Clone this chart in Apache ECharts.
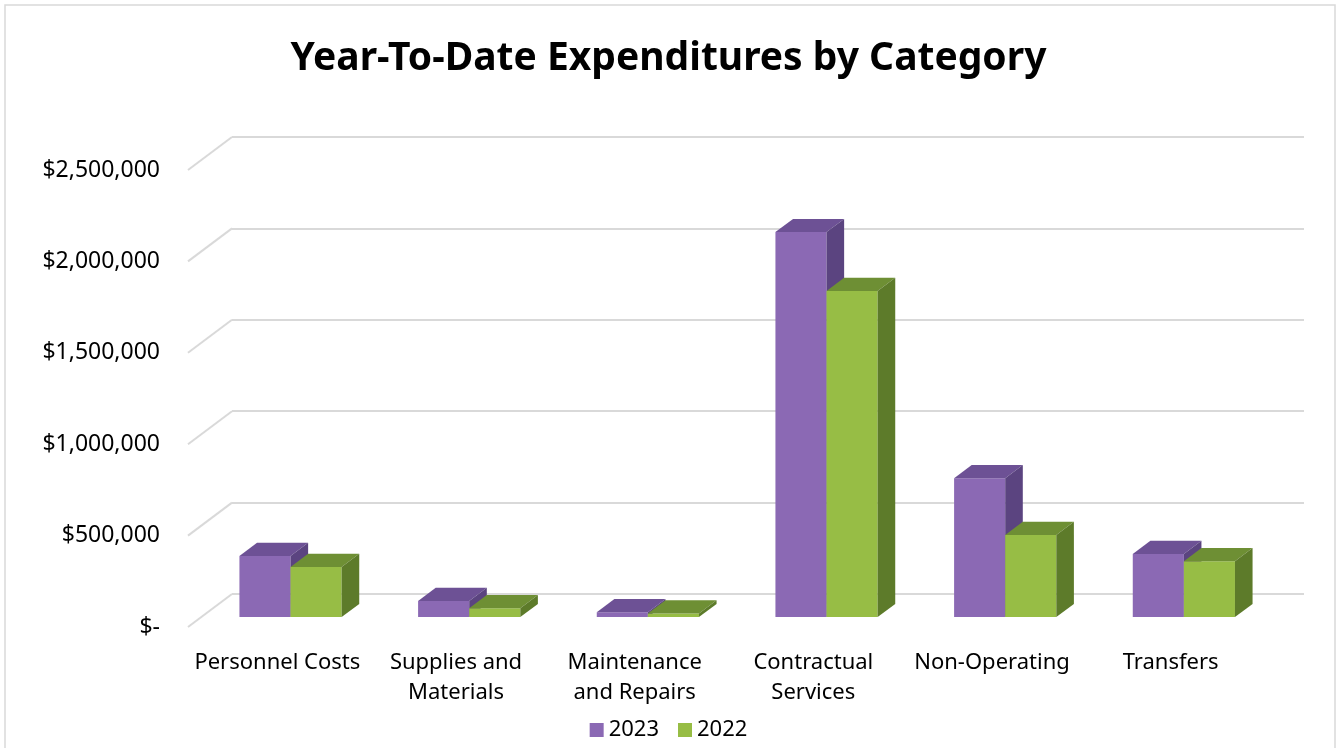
<!DOCTYPE html>
<html><head><meta charset="utf-8">
<script src="https://cdn.jsdelivr.net/npm/echarts@6/dist/echarts.min.js"></script>
<style>html,body{margin:0;padding:0;background:#fff}#c{width:1337px;height:748px}</style>
</head><body><div id="c"></div>
<script>
const categories = ['Personnel Costs', 'Supplies and\nMaterials', 'Maintenance\nand Repairs', 'Contractual\nServices', 'Non-Operating', 'Transfers'];
const seriesNames = ['2023', '2022'];
const values2023 = [334000, 88000, 27000, 2106000, 760000, 345000];
const values2022 = [274000, 49000, 20000, 1784000, 449000, 306000];
const yMin = 0, yMax = 2500000, yInterval = 500000;
const yTicks = [0, 500000, 1000000, 1500000, 2000000, 2500000];

const DX = 44, DY = 33;          // floor depth offset
const BAR_FRONT = 0.3, BAR_DEPTH = 0.4;
const BAR_RATIO = 0.286;
const colors = {
  '2023': {front: '#8b69b4', top: '#6d5195', side: '#5b4480'},
  '2022': {front: '#97bd45', top: '#6e8f34', side: '#5d7b2a'}
};
const FONT = 'Noto Sans';

function fmt(v) {
  if (v === 0) return '$-';
  return '$' + v.toLocaleString('en-US');
}

function barRender(name, side) {
  return function (params, api) {
    const idx = api.value(0), val = api.value(1);
    const top = api.coord([idx, val]);
    const base = api.coord([idx, 0]);
    const band = api.size([1, 0])[0];
    const w = band * BAR_RATIO;
    const x0 = side === 0 ? top[0] - w : top[0];
    const x1 = x0 + w;
    const yT = top[1], yB = base[1];
    const dx = DX * BAR_DEPTH, dy = DY * BAR_DEPTH;
    const c = colors[name];
    return {
      type: 'group',
      children: [
        {type: 'polygon', shape: {points: [[x0, yB], [x1, yB], [x1, yT], [x0, yT]]}, style: {fill: c.front}},
        {type: 'polygon', shape: {points: [[x0, yT], [x1, yT], [x1 + dx, yT - dy], [x0 + dx, yT - dy]]}, style: {fill: c.top}},
        {type: 'polygon', shape: {points: [[x1, yB], [x1 + dx, yB - dy], [x1 + dx, yT - dy], [x1, yT]]}, style: {fill: c.side}}
      ]
    };
  };
}

const chart = echarts.init(document.getElementById('c'), null, {renderer: 'canvas'});
const frontBottom = 121, frontTop = 170, frontLeft = 188, frontRight = 77;
const option = {
  backgroundColor: '#fff',
  animation: false,
  title: {
    text: 'Year-To-Date Expenditures by Category',
    left: 'center', top: 34,
    textStyle: {fontFamily: FONT, fontSize: 39, fontWeight: 'bold', color: '#000'}
  },
  legend: {
    data: seriesNames,
    top: 714, left: 'center',
    itemWidth: 14, itemHeight: 14, itemGap: 19,
    icon: 'rect',
    textStyle: {fontFamily: FONT, fontSize: 22, color: '#000'}
  },
  graphic: [{
    type: 'rect', shape: {x: 5, y: 5, width: 1330, height: 760},
    style: {fill: 'none', stroke: '#d9d9d9', lineWidth: 1.5}, z: -10
  }],
  grid: [
    {left: frontLeft, right: frontRight, top: frontTop, bottom: frontBottom},
    {left: frontLeft + DX * BAR_FRONT, right: frontRight - DX * BAR_FRONT, top: frontTop - DY * BAR_FRONT, bottom: frontBottom + DY * BAR_FRONT},
    {left: frontLeft + DX, right: frontRight - DX, top: frontTop - DY, bottom: frontBottom + DY}
  ],
  xAxis: [
    {type: 'category', gridIndex: 0, data: categories, axisLine: {show: false}, axisTick: {show: false},
     axisLabel: {fontFamily: FONT, fontSize: 22, color: '#000', margin: 21, lineHeight: 30, interval: 0}},
    {type: 'category', gridIndex: 1, data: categories, show: false},
    {type: 'category', gridIndex: 2, data: categories, show: false}
  ],
  yAxis: [
    {type: 'value', gridIndex: 0, min: yMin, max: yMax, interval: yInterval, splitLine: {show: false},
     axisLine: {show: false}, axisTick: {show: false},
     axisLabel: {fontFamily: FONT, fontSize: 23, color: '#000', margin: 28, formatter: fmt}},
    {type: 'value', gridIndex: 1, min: yMin, max: yMax, interval: yInterval, show: false, splitLine: {show: false}},
    {type: 'value', gridIndex: 2, min: yMin, max: yMax, interval: yInterval,
     axisLine: {show: false}, axisTick: {show: false}, axisLabel: {show: false},
     splitLine: {show: true, lineStyle: {color: '#d9d9d9', width: 2}}}
  ],
  series: [
    {
      type: 'custom', name: 'diag', xAxisIndex: 0, yAxisIndex: 0, silent: true, clip: false,
      data: yTicks.map(v => [0, v]),
      renderItem: function (params, api) {
        const y = api.coord([0, api.value(1)])[1];
        const x = params.coordSys.x;
        return {type: 'line', shape: {x1: x, y1: y, x2: x + DX, y2: y - DY},
                style: {stroke: '#d9d9d9', lineWidth: 2}};
      },
      z: 1
    },
    {
      type: 'custom', name: '2023', xAxisIndex: 1, yAxisIndex: 1, clip: false,
      itemStyle: {color: colors['2023'].front},
      data: values2023.map((v, i) => [i, v]),
      renderItem: barRender('2023', 0), z: 3
    },
    {
      type: 'custom', name: '2022', xAxisIndex: 1, yAxisIndex: 1, clip: false,
      itemStyle: {color: colors['2022'].front},
      data: values2022.map((v, i) => [i, v]),
      renderItem: barRender('2022', 1), z: 4
    }
  ]
};
chart.setOption(option);
</script>
</body></html>
